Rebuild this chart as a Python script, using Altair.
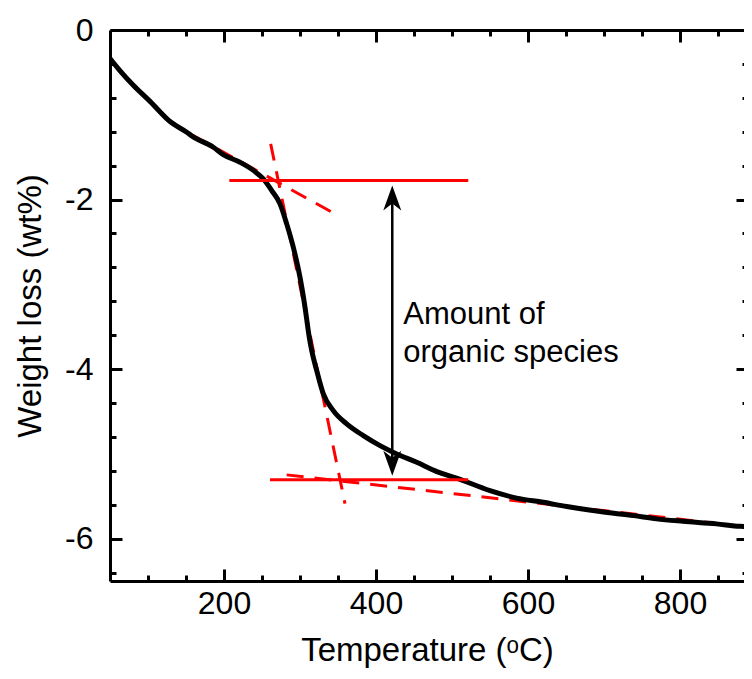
import altair as alt
import pandas as pd

# ---------------- data ----------------
curve_T = [50, 63, 81, 103, 129, 151, 159, 186, 199, 221, 240, 251.5, 262.8, 273.7, 282.5,
           291.2, 300, 306.6, 312.2, 315.4, 322, 330.7, 343.8, 361.4, 383.3, 405.3,
           427.2, 453.6, 480, 506, 550, 585, 620, 651, 695, 739, 769, 804, 848, 879, 895]
curve_W = [-0.336, -0.478, -0.655, -0.845, -1.08, -1.206, -1.257, -1.383, -1.47, -1.56,
           -1.665, -1.754, -1.894, -2.051, -2.287, -2.563, -2.917, -3.271, -3.625, -3.782,
           -4.018, -4.293, -4.49, -4.647, -4.785, -4.903, -5.001, -5.10, -5.209, -5.286,
           -5.434, -5.522, -5.572, -5.622, -5.681, -5.729, -5.767, -5.796, -5.826,
           -5.855, -5.86]

tan_id = ["t1", "t1", "t2", "t2", "t3", "t3"]
tan_T = [159.6, 351.7, 261.4, 359.2, 282.5, 874.6]
tan_W = [-1.245, -2.197, -1.343, -5.587, -5.248, -5.847]

hl_id = ["h1", "h1", "h2", "h2"]
hl_T = [207, 521.4, 260.5, 521.4]
hl_W = [-1.776, -1.776, -5.307, -5.307]

arrow_T = [421.4, 421.4]
arrow_shaft_W = [-1.94, -5.15]
arrow_tip_top = [-1.835]
arrow_tip_bottom = [-5.257]

note_lines = ["Amount of", "organic species"]
note_T = [435.9, 435.9]
note_W = [-3.467, -3.92]

x_ticks = [100, 150, 200, 250, 300, 350, 400, 450, 500, 550, 600, 650, 700, 750, 800, 850]
y_ticks = [0, -0.4, -0.8, -1.2, -1.6, -2, -2.4, -2.8, -3.2, -3.6, -4, -4.4, -4.8,
           -5.2, -5.6, -6, -6.4]

X_DOMAIN = [50, 884.2]
Y_DOMAIN = [-6.5, 0]

FONT = "Liberation Sans"
RED = "#ff0000"

df_curve = pd.DataFrame({"T": curve_T, "W": curve_W})
df_tan = pd.DataFrame({"id": tan_id, "T": tan_T, "W": tan_W})
df_hl = pd.DataFrame({"id": hl_id, "T": hl_T, "W": hl_W})
df_shaft = pd.DataFrame({"T": arrow_T, "W": arrow_shaft_W})
df_top = pd.DataFrame({"T": arrow_T[:1], "W": arrow_tip_top})
df_bot = pd.DataFrame({"T": arrow_T[:1], "W": arrow_tip_bottom})
df_note = pd.DataFrame({"txt": note_lines, "T": note_T, "W": note_W})

xs = alt.Scale(domain=X_DOMAIN, nice=False, zero=False)
ys = alt.Scale(domain=Y_DOMAIN, nice=False, zero=False)

X_TICK = {"expr": "datum.value % 200 === 0 ? -12 : -6"}
Y_TICK = {"expr": "datum.value % 2 === 0 ? -12 : -6"}

common = dict(grid=False, tickWidth=3, tickColor="black", domainColor="black",
              domainWidth=3, labelFont=FONT, labelFontSize=32, labelColor="black",
              labelOverlap=False, titleFont=FONT, titleFontSize=33,
              titleFontWeight="normal", titleColor="black")

ax_bottom = alt.Axis(orient="bottom", values=x_ticks, tickSize=X_TICK,
                     labelExpr="datum.value % 200 === 0 ? toString(datum.value) : ''",
                     labelPadding=19, title="Temperature (\u1d52C)", titlePadding=9,
                     labelFlush=False, **common)
ax_left = alt.Axis(orient="left", values=y_ticks, tickSize=Y_TICK,
                   labelExpr="datum.value % 2 === 0 ? toString(datum.value) : ''",
                   labelPadding=29, title="Weight loss (wt%)", titlePadding=17, **common)
ax_top = alt.Axis(orient="top", values=x_ticks, tickSize=X_TICK, labels=False,
                  title=None, **common)
ax_right = alt.Axis(orient="right", values=y_ticks, tickSize=Y_TICK, labels=False,
                    domain=False, offset=4, title=None, **common)

curve = alt.Chart(df_curve).mark_line(color="black", strokeWidth=5, clip=True,
                                      interpolate="monotone").encode(
    x=alt.X("T:Q", scale=xs, axis=ax_bottom),
    y=alt.Y("W:Q", scale=ys, axis=ax_left),
)

tangents = alt.Chart(df_tan).mark_line(color=RED, strokeWidth=3, strokeDash=[17, 11],
                                       clip=True).encode(
    x=alt.X("T:Q", scale=xs, axis=ax_top),
    y=alt.Y("W:Q", scale=ys, axis=ax_right),
    detail="id:N",
)

hlines = alt.Chart(df_hl).mark_line(color=RED, strokeWidth=3).encode(
    x=alt.X("T:Q", scale=xs, axis=None),
    y=alt.Y("W:Q", scale=ys, axis=None),
    detail="id:N",
)

shaft = alt.Chart(df_shaft).mark_line(color="black", strokeWidth=2.5).encode(
    x=alt.X("T:Q", scale=xs, axis=None),
    y=alt.Y("W:Q", scale=ys, axis=None),
)

head_up = alt.Chart(df_top).mark_point(
    shape="M0,0 L0.36,1 L0,0.72 L-0.36,1 Z", filled=True, size=2500,
    color="black", opacity=1, strokeWidth=0).encode(
    x=alt.X("T:Q", scale=xs, axis=None),
    y=alt.Y("W:Q", scale=ys, axis=None),
)
head_down = alt.Chart(df_bot).mark_point(
    shape="M0,0 L0.36,-1 L0,-0.72 L-0.36,-1 Z", filled=True, size=2500,
    color="black", opacity=1, strokeWidth=0).encode(
    x=alt.X("T:Q", scale=xs, axis=None),
    y=alt.Y("W:Q", scale=ys, axis=None),
)

note = alt.Chart(df_note).mark_text(align="left", baseline="alphabetic", font=FONT,
                                    fontSize=31, color="black").encode(
    x=alt.X("T:Q", scale=xs, axis=None),
    y=alt.Y("W:Q", scale=ys, axis=None),
    text="txt:N",
)

chart = alt.layer(tangents, curve, hlines, shaft, head_up, head_down, note).resolve_axis(
    x="independent", y="independent"
).properties(
    width=634, height=551,
    autosize=alt.AutoSizeParams(type="none"),
    padding={"left": 102, "top": 22, "right": 0, "bottom": 89},
).configure_view(strokeWidth=0)

chart.save("out.html", embed_options={"renderer": "svg", "actions": False})
